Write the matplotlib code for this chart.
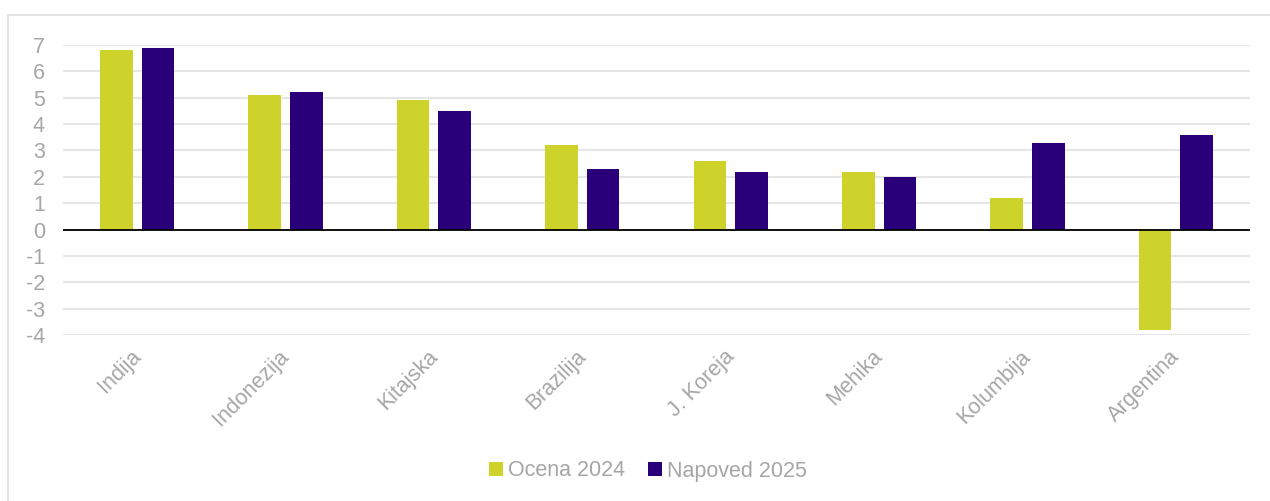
import numpy as np
import matplotlib.pyplot as plt
from matplotlib.patches import Rectangle
from matplotlib.transforms import ScaledTranslation

# Gospodarska rast po državah (v %)
countries = ['Indija', 'Indonezija', 'Kitajska', 'Brazilija', 'J. Koreja',
             'Mehika', 'Kolumbija', 'Argentina']
ocena_2024 = [6.8, 5.1, 4.9, 3.2, 2.6, 2.2, 1.2, -3.8]
napoved_2025 = [6.9, 5.2, 4.5, 2.3, 2.2, 2.0, 3.3, 3.6]
yticks = list(range(-4, 8))

plt.rcParams['font.family'] = ['Liberation Sans', 'DejaVu Sans']
grey = '#a6a6a6'
fs = 15.5

fig = plt.figure(figsize=(12.7, 5.01), dpi=100)
# outer chart frame
fig.patches.append(Rectangle((8 / 1270, -0.1), 1.1, 1 - 15 / 501 + 0.1,
                             transform=fig.transFigure, fill=False,
                             edgecolor='#e3e3e3', linewidth=1.5))

ax = fig.add_axes([63 / 1270, 1 - 335 / 501, (1250 - 63) / 1270,
                   (335 - 45) / 501])

x = np.arange(len(countries))
w = 0.22
ax.bar(x - 0.14, ocena_2024, w, color='#cdd32a', label='Ocena 2024', zorder=3)
ax.bar(x + 0.14, napoved_2025, w, color='#2a007a', label='Napoved 2025', zorder=3)

ax.set_xlim(-0.5, len(countries) - 0.5)
ax.set_ylim(-4, 7)
ax.set_yticks(yticks)
ax.set_yticklabels([str(t) for t in yticks])
ax.grid(axis='y', color='#e6e6e6', linewidth=1.5, zorder=0)
ax.axhline(0, color='black', linewidth=1.3, zorder=4)
for s in ax.spines.values():
    s.set_visible(False)

ax.tick_params(axis='y', length=0, labelsize=fs, labelcolor=grey, pad=13)
ax.tick_params(axis='x', length=0, labelsize=fs, labelcolor=grey, pad=8)
ax.set_xticks(x)
ax.set_xticklabels(countries, rotation=45, ha='right', rotation_mode='anchor')
shift = ScaledTranslation(-7 / 100, 0, fig.dpi_scale_trans)
for lbl in ax.get_xticklabels():
    lbl.set_transform(lbl.get_transform() + shift)

fig.legend(loc='center', bbox_to_anchor=(648 / 1270, 1 - 471 / 501), ncol=2,
           frameon=False, fontsize=fs, labelcolor=grey, handlelength=0.65,
           handleheight=0.65, handletextpad=0.2, columnspacing=1.1)

fig.savefig('out.png', dpi=100)
